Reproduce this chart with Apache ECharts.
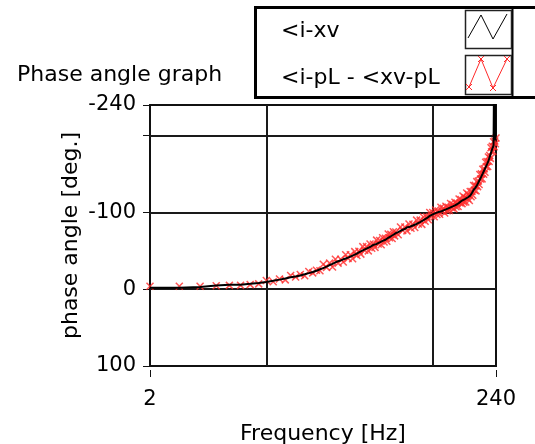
<!DOCTYPE html>
<html>
<head>
<meta charset="utf-8">
<script src="https://cdn.jsdelivr.net/npm/echarts@6/dist/echarts.min.js"></script>
<style>
html,body{margin:0;padding:0;background:#fff;}
#chart{width:535px;height:444px;}
</style>
</head>
<body>
<div id="chart"></div>
<script>
// frequency points [Hz]
var freq = [2,3,4,5,6,7,8,9,10,11,12,13,14,15,16,17,18,19,20,21,22,23,24,25,26,27,28,29,30,
  31,32,33,34,35,36,37,38,39,40,41,42,43,44,45,46,47,48,49,50,51,52,53,54,55,56,57,58,59,60,
  62,64,66,68,70,72,74,76,78,80,82,84,86,88,90,92,94,96,98,100,
  102,104,106,108,110,112,114,116,118,120,122,124,126,128,130,132,134,136,138,140,
  142,144,146,148,150,152,154,156,158,160,162,164,166,168,170,172,174,176,178,180,
  182,184,186,188,190,192,194,196,198,200,202,204,206,208,210,212,214,216,218,220,
  222,224,226,228,230,232,234,236,238,240];

// <i-xv (black line)
var phaseIXv = [-2,-2,-3,-5,-6,-6,-7,-8,-9.5,-11,-12.5,-14,-15.5,-16.5,-18,-19.5,-21,-22.5,-24,-26,-27.5,-29.5,-31.5,-33,-35,-36.5,-37.5,-39,-40,
  -41.2,-42.5,-43.7,-45,-46.5,-48,-49.2,-50.5,-51.8,-53,-54,-55,-56,-57.8,-58,-59,-60,-61,-62,-63,-64,-64.4,-66,-67,-68,-69,-70,-71,-72,-73,
  -74.5,-76,-77.5,-78.5,-80.6,-81,-82,-83,-84,-85,-86,-87.5,-88,-90,-91,-92.5,-94,-95.6,-96.5,-97.5,
  -98.5,-99.2,-99.8,-100.5,-101.2,-101.2,-102.5,-102.8,-103.3,-104,-104.7,-105.3,-106,-106.7,-107.9,-108,-108.7,-109.3,-110,-110.7,
  -111.3,-112.5,-113.5,-114.5,-115.5,-116.2,-116.8,-117.5,-117.6,-118.8,-119.5,-120.2,-120.8,-122,-123.7,-125.3,-127,-129.3,-130.3,-132,
  -133.3,-135,-137,-139,-141,-143,-144.2,-147,-149,-151,-153,-155,-157,-159,-161,-163,-165,-167,-169.7,-172.3,
  -175,-177.7,-180.3,-183,-185,-187,-189,-400,-194,-196];

// <i-pL - <xv-pL (red x markers)
var phasePL = [-4,-4,-4,-4.5,-5,-5,-6,-7,
  -11.5,-9.8,-13.3,-12.2,-18,-16,-19.2,-17.5,-23,-21.3,-24.8,-24.2,
  -32.5,-28.5,-34,-29,-39,-34,-39,-35.5,-45,
  -40.2,-45,-39.7,-49,-44,-49.5,-45.7,-55.5,-50.8,-55.5,
  -50,-59,-53.5,-58.5,-54.5,-64,-59,-63.5,-58,-67,
  -61.5,-66.5,-62.5,-72,-67,-71.5,-66,-75,-69.5,-74.5,
  -71,-81,-76.5,-81,-76,-85,-79.5,-84.5,-80.5,-90,
  -85,-90,-84.5,-94,-88.5,-94,-90.5,-100,-95.5,-100,
  -94.5,-103.2,-97.3,-102,-97.7,-106.8,-101.5,-105.3,-99.3,-108,
  -102.2,-106.8,-102.5,-111.7,-106.3,-110.5,-104.7,-113.3,-107.5,-112.2,
  -107.8,-117.5,-112.5,-117,-111.5,
  -121.4,-113.5,-119.5,-113.7,-125.3,-118.2,-123.5,-115.6,-127.2,-120.4,
  -127.3,-122.5,-135.2,-129,-135.3,-128.1,-140.2,-133.7,-141,-136.5,
  -149.5,-143.7,-150.3,-143.8,-156.2,-149.7,-157,-152.5,-165.5,-159.7,
  -166.3,-159.8,-172.2,-166.4,-174.3,-170.5,-184.2,-179,-186.3,-179.8,
  -192.2,-185.7,-193,-189.5,-197];

var yTicks = [-240, -200, -100, 0, 100];
var yLabels = [-240, -100, 0, 100];
var xLabels = [2, 240];
var xGrid = [10, 100];
var yGrid = [-200, -100, 0];

var FONT = "'DejaVu Sans', sans-serif";
var xMark = 'path://M0,0L10,10M10,0L0,10';

var chart = echarts.init(document.getElementById('chart'));

// legend drawn by hand (LabVIEW style plot legend)
var legendGfx = [
  {type:'rect', shape:{x:255.5, y:7.5, width:300, height:90}, style:{fill:'#fff', stroke:'#000', lineWidth:3}},
  {type:'line', shape:{x1:512.5, y1:7, x2:512.5, y2:98}, style:{stroke:'#000', lineWidth:2}},
  {type:'rect', shape:{x:465.5, y:10.5, width:46, height:38}, style:{fill:'#fff', stroke:'#222', lineWidth:1.5}},
  {type:'polyline', shape:{points:[[468,38],[481,15],[493,39],[507,14]]}, style:{stroke:'#000', lineWidth:1}},
  {type:'rect', shape:{x:465.5, y:55.5, width:46, height:39}, style:{fill:'#fff', stroke:'#222', lineWidth:1.5}},
  {type:'polyline', shape:{points:[[469,87],[481,59],[493,88],[507,59]]}, style:{stroke:'#ff2a2a', lineWidth:1}},
  {type:'text', x:281, y:31, style:{text:'<i-xv', font:'22px ' + FONT, fill:'#000', verticalAlign:'middle'}},
  {type:'text', x:281, y:78, style:{text:'<i-pL - <xv-pL', font:'22px ' + FONT, fill:'#000', verticalAlign:'middle'}}
];
[[469,87],[481,59],[493,88],[507,59]].forEach(function (p) {
  legendGfx.push({type:'line', shape:{x1:p[0]-3, y1:p[1]-3, x2:p[0]+3, y2:p[1]+3}, style:{stroke:'#ff2a2a', lineWidth:1}});
  legendGfx.push({type:'line', shape:{x1:p[0]+3, y1:p[1]-3, x2:p[0]-3, y2:p[1]+3}, style:{stroke:'#ff2a2a', lineWidth:1}});
});

var gridLines = xGrid.map(function (v) { return {xAxis: v}; })
  .concat(yGrid.map(function (v) { return {yAxis: v}; }));

var option = {
  animation: false,
  backgroundColor: '#fff',
  title: {
    text: 'Phase angle graph',
    left: 12, top: 59,
    textStyle: {fontSize: 22, fontWeight: 'normal', color: '#000', fontFamily: FONT}
  },
  grid: {
    left: 150, right: 39, top: 105, bottom: 78,
    containLabel: false, outerBoundsMode: 'none',
    show: true, backgroundColor: '#fff', borderColor: '#111', borderWidth: 2
  },
  xAxis: [
    {
      type: 'log', logBase: 10, min: 2, max: 240,
      name: 'Frequency [Hz]', nameLocation: 'middle', nameGap: 53,
      nameTextStyle: {fontSize: 22, color: '#000', fontFamily: FONT},
      position: 'bottom', offset: 4,
      axisLine: {show: false},
      axisTick: {show: false},
      axisLabel: {customValues: xLabels, fontSize: 21, color: '#000', fontFamily: FONT, margin: 19},
      splitLine: {show: false}
    },
    {
      // only draws the two end ticks under 2 and 240
      type: 'value', min: 0, max: 1, interval: 1,
      position: 'bottom', offset: 4,
      axisLine: {show: false},
      axisTick: {show: true, length: 7, lineStyle: {color: '#111', width: 1}},
      axisLabel: {show: false},
      splitLine: {show: false}
    }
  ],
  yAxis: {
    type: 'value', inverse: true, min: -240, max: 100,
    name: 'phase angle [deg.]', nameLocation: 'middle', nameGap: 66, nameRotate: 90,
    nameMoveOverlap: false,
    nameTextStyle: {fontSize: 22, color: '#000', fontFamily: FONT},
    offset: 2,
    axisLine: {show: false},
    axisTick: {show: true, length: 7, customValues: yTicks, lineStyle: {color: '#111', width: 1}},
    axisLabel: {customValues: yLabels, fontSize: 21, color: '#000', fontFamily: FONT, margin: 12},
    splitLine: {show: false}
  },
  graphic: legendGfx,
  series: [
    {
      name: '<i-pL - <xv-pL',
      type: 'scatter',
      z: 2,
      symbol: xMark,
      symbolSize: 7,
      itemStyle: {color: '#ff2a2a', borderColor: '#ff2a2a', borderWidth: 1.5},
      data: freq.map(function (f, i) { return [f, phasePL[i]]; }),
      markLine: {
        silent: true, symbol: 'none', z: 1,
        label: {show: false},
        lineStyle: {color: '#1a1a1a', width: 2, type: 'solid'},
        data: gridLines
      }
    },
    {
      name: '<i-xv',
      type: 'line',
      z: 3,
      showSymbol: false,
      clip: true,
      lineStyle: {color: '#000', width: 2},
      data: freq.map(function (f, i) { return [f, phaseIXv[i]]; })
    }
  ]
};
chart.setOption(option);
</script>
</body>
</html>
